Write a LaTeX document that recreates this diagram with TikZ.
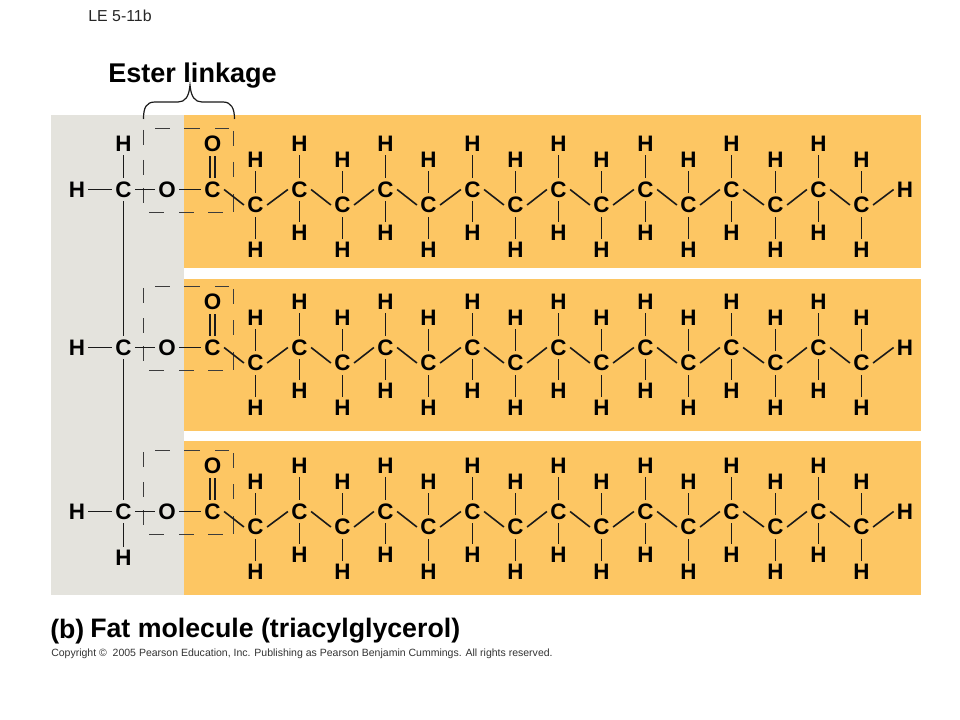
\documentclass[tikz,border=0pt]{standalone}
\usepackage{fontspec}
\setmainfont{Liberation Sans}
\definecolor{panelorange}{HTML}{FDC663}
\definecolor{panelgrey}{HTML}{E4E3DD}
\definecolor{inkline}{HTML}{1A1A1A}
\tikzset{
  atom/.style={circle,inner sep=0pt,minimum size=20.5pt*0.75,font=\fontsize{16.8}{17}\selectfont\bfseries,text=black},
  bond/.style={draw=inkline,line width=1.2pt},
  dashseg/.style={draw=inkline!85,line width=1.2pt}
}
\begin{document}
\begin{tikzpicture}[x=0.75pt,y=-0.75pt]
\fill[white] (0,0) rectangle (960,720);
\useasboundingbox (0,0) rectangle (960,720);
% panels
\fill[panelgrey] (51,115) rectangle (184,595);
\fill[panelorange] (184,115) rectangle (921,268);
\fill[panelorange] (184,279) rectangle (921,431);
\fill[panelorange] (184,441) rectangle (921,595);
% titles
\node[anchor=center,font=\fontsize{11.9}{13}\selectfont,text=black!85] (fig) at (120,16) {LE 5-11b};
\node[anchor=west,inner sep=0pt,font=\fontsize{20.3}{22}\selectfont\bfseries] (ester) at (108,76) {Ester linkage};
\node[anchor=west,inner sep=0pt,font=\fontsize{20}{22}\selectfont\bfseries] (bb) at (50,632) {(b)};
\node[anchor=west,inner sep=0pt,font=\fontsize{20.05}{22}\selectfont\bfseries] (fat) at (90,631) {Fat molecule (triacylglycerol)};
\node[anchor=west,inner sep=0pt,font=\fontsize{7.88}{10}\selectfont,text=black!80] (copy) at (51,654) {Copyright ©\ \ 2005 Pearson Education, Inc. Publishing as Pearson Benjamin Cummings. All rights reserved.};
% bracket
\coordinate (brL) at (143.5,119);
\coordinate (brR) at (234.5,119);
\coordinate (brT) at (190,85);
\draw[bond,line width=0.9pt] (brL) .. controls (143.5,108) and (146,102) .. (155,102) -- (178,102)
  .. controls (185,102) and (189,97) .. (brT)
  .. controls (191,97) and (195,102) .. (202,102) -- (223,102)
  .. controls (231,102) and (234.5,108) .. (brR);
% rows
\foreach \r/\o in {1/0,2/158,3/322}{
  % ester linkage box
  \begin{scope}[shift={(0,\o)}]
    \foreach \a/\b/\c/\d in {155/128.5/170/128.5,184/128.5/200/128.5,215/128.5/229/128.5,
        143.5/130/143.5/145,143.5/160/143.5/175,143.5/188/143.5/203,
        149/212.5/164/212.5,179/212.5/194/212.5,208/212.5/223/212.5,
        233.5/131/233.5/146,233.5/162/233.5/177,233.5/194/233.5/212}{
      \draw[dashseg] (\a,\b) -- (\c,\d);
    }
  \end{scope}
  % glycerol part
  \node[atom] (G\r) at (123.5,189.5+\o) {C};
  \node[atom] (E\r) at (167,189.5+\o) {O};
  \node[atom] (L\r) at (77,189.5+\o) {H};
  \draw[bond] (L\r) -- (G\r);
  \draw[bond] (G\r) -- (E\r);
  % carbonyl
  \node[atom] (C\r x0) at (212.5,189.5+\o) {C};
  \node[atom] (O\r) at (212.5,144+\o) {O};
  \draw[bond] (E\r) -- (C\r x0);
  \draw[bond] ([xshift=-1.875pt]O\r.south) -- ([xshift=-1.875pt]C\r x0.north);
  \draw[bond] ([xshift=1.875pt]O\r.south) -- ([xshift=1.875pt]C\r x0.north);
  % chain
  \foreach \i in {1,...,15}{
    \pgfmathsetmacro{\px}{round(212+\i*43.27)+0.5}
    \pgfmathtruncatemacro{\odd}{mod(\i,2)}
    \pgfmathtruncatemacro{\pv}{\i-1}
    \ifnum\odd=1
      \node[atom] (C\r x\i) at (\px,205+\o) {C};
      \node[atom] (A\r x\i) at (\px,160+\o) {H};
      \node[atom] (B\r x\i) at (\px,250+\o) {H};
    \else
      \node[atom] (C\r x\i) at (\px,189.5+\o) {C};
      \node[atom] (A\r x\i) at (\px,144+\o) {H};
      \node[atom] (B\r x\i) at (\px,233+\o) {H};
    \fi
    \draw[bond] (C\r x\pv.east) -- (C\r x\i.west);
    \draw[bond] (A\r x\i) -- (C\r x\i);
    \draw[bond] (B\r x\i) -- (C\r x\i);
  }
  \node[atom] (T\r) at (905,189.5+\o) {H};
  \draw[bond] (C\r x15.east) -- (T\r.west);
}
% glycerol spine and its end hydrogens
\node[atom] (GT) at (123.5,144) {H};
\node[atom] (GB) at (123.5,558) {H};
\draw[bond] (GT) -- (G1);
\draw[bond] (G1) -- (G2);
\draw[bond] (G2) -- (G3);
\draw[bond] (G3) -- (GB);
\end{tikzpicture}
\end{document}
